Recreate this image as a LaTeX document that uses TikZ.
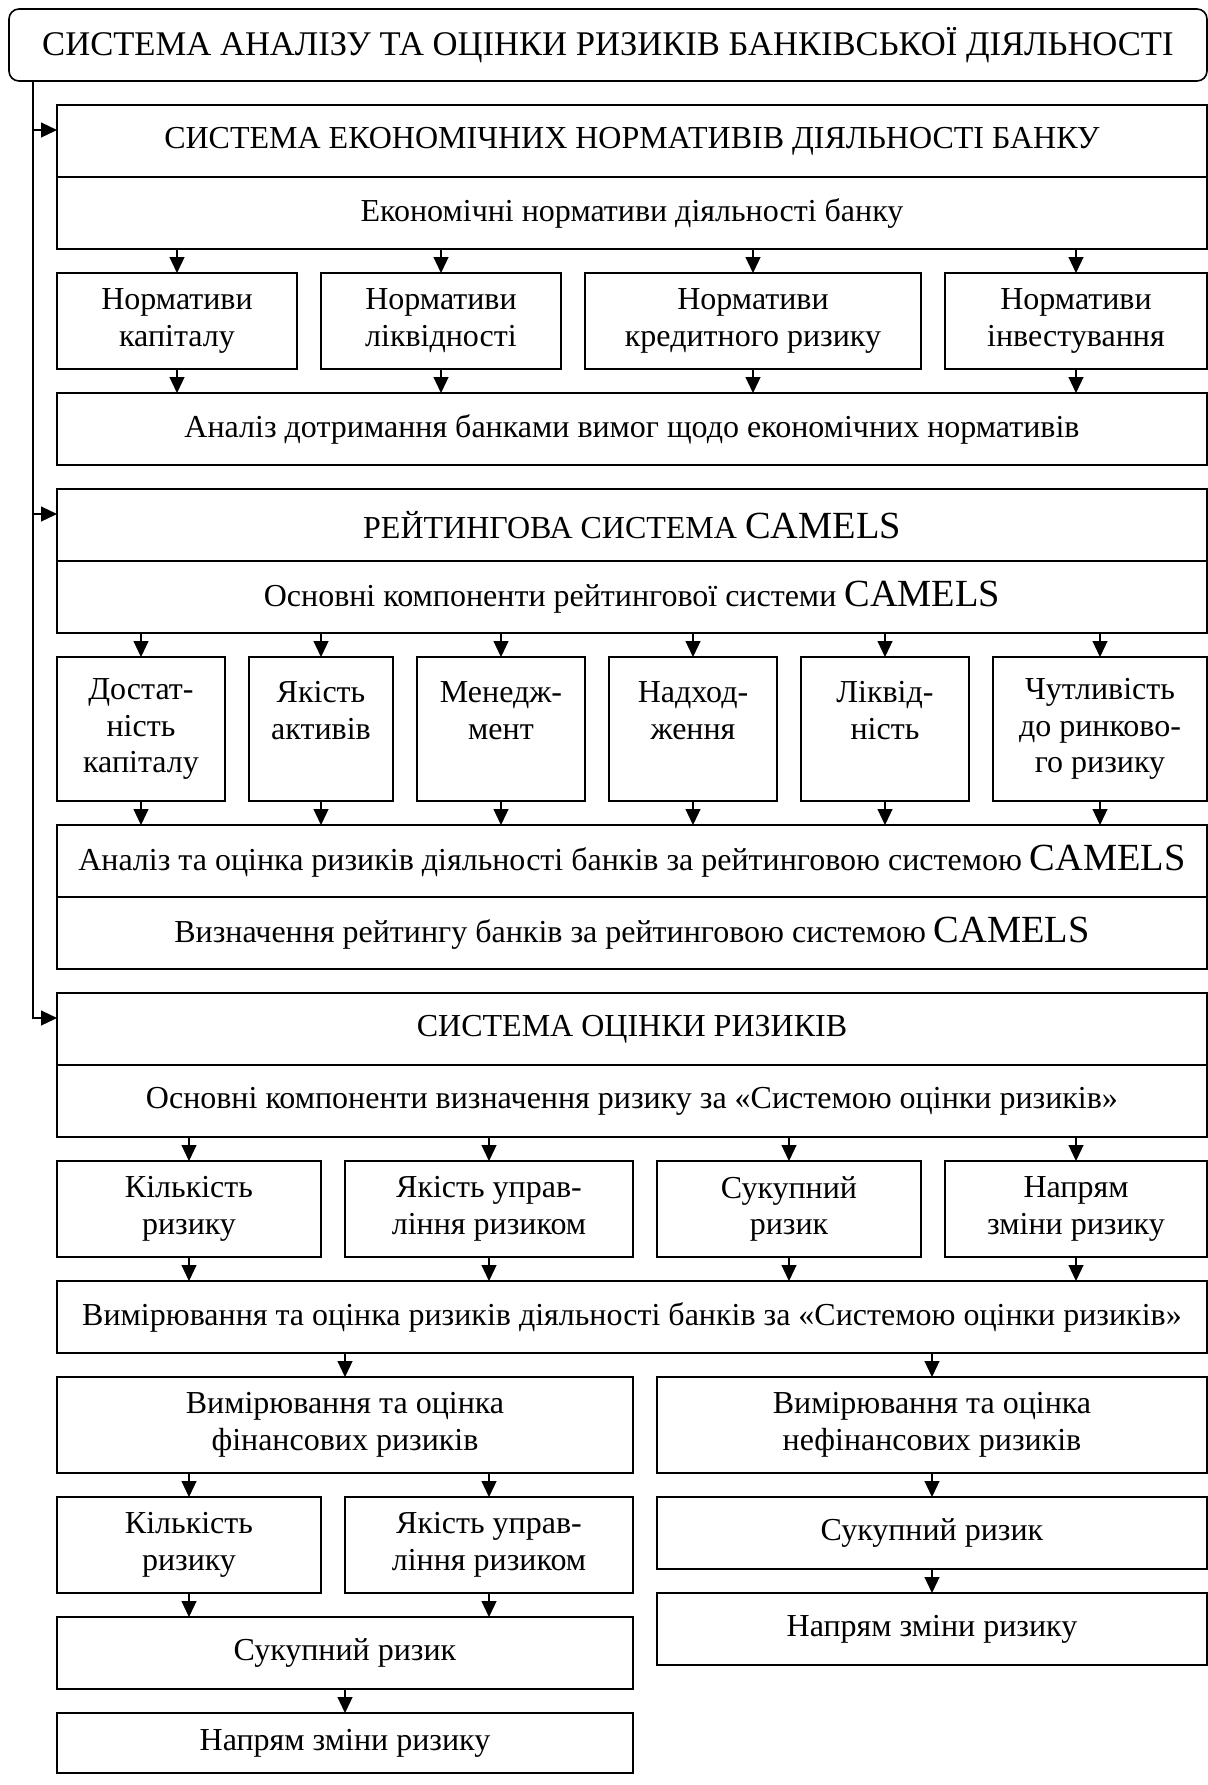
\documentclass[tikz,border=0pt]{standalone}
\usepackage{fontspec}
\setmainfont{Liberation Serif}
\usetikzlibrary{arrows.meta}
\newcommand{\camels}{{\fontsize{19.2}{20}\selectfont CAMELS}}
\tikzset{
	box/.style={draw, line width=0.6pt, anchor=north west, inner sep=0pt, outer sep=0pt,
		align=center, font=\fontsize{16}{18.4}\selectfont},
	arr/.style={line width=0.6pt, -{Triangle[length=8pt, width=7.5pt]}}
}

\begin{document}
\begin{tikzpicture}[x=0.5pt, y=-0.5pt]
	\useasboundingbox (0,0) rectangle (1208,1785);

	% Head box
	\node[box, rounded corners=5pt, line width=0.8pt, minimum width=599pt, minimum height=36pt,
		font=\fontsize{17.3}{20}\selectfont] (top) at (9,9)
		{СИСТЕМА АНАЛІЗУ ТА ОЦІНКИ РИЗИКІВ БАНКІВСЬКОЇ ДІЯЛЬНОСТІ};

	% Economic standards
	\node[box, minimum width=575pt, minimum height=36pt] (ecoT) at (57,105) {СИСТЕМА ЕКОНОМІЧНИХ НОРМАТИВІВ ДІЯЛЬНОСТІ БАНКУ};
	\node[box, minimum width=575pt, minimum height=36pt] (ecoS) at (57,177) {Економічні нормативи діяльності банку};
	\node[box, minimum width=120pt, minimum height=48pt] (n1) at (57,273) {Нормативи\\капіталу};
	\node[box, minimum width=120pt, minimum height=48pt] (n2) at (321,273) {Нормативи\\ліквідності};
	\node[box, minimum width=168pt, minimum height=48pt] (n3) at (585,273) {Нормативи\\кредитного ризику};
	\node[box, minimum width=131pt, minimum height=48pt] (n4) at (945,273) {Нормативи\\інвестування};
	\node[box, minimum width=575pt, minimum height=36pt] (ecoA) at (57,393) {Аналіз дотримання банками вимог щодо економічних нормативів};
	\foreach \n in {n1,n2,n3,n4}{
		\draw[arr] (ecoS.south -| \n.north) -- (\n.north);
		\draw[arr] (\n.south) -- (ecoA.north -| \n.south);
	}

	% CAMELS
	\node[box, minimum width=575pt, minimum height=36pt] (camT) at (57,489) {РЕЙТИНГОВА СИСТЕМА \camels};
	\node[box, minimum width=575pt, minimum height=36pt] (camS) at (57,561) {Основні компоненти рейтингової системи \camels};
	\node[box, minimum width=84pt, minimum height=72pt] (c1) at (57,657) {Достат-\\ність\\капіталу};
	\node[box, minimum width=72pt, minimum height=72pt] (c2) at (249,657) {Якість\\активів\\~};
	\node[box, minimum width=84pt, minimum height=72pt] (c3) at (417,657) {Менедж-\\мент\\~};
	\node[box, minimum width=84pt, minimum height=72pt] (c4) at (609,657) {Надход-\\ження\\~};
	\node[box, minimum width=84pt, minimum height=72pt] (c5) at (801,657) {Ліквід-\\ність\\~};
	\node[box, minimum width=107pt, minimum height=72pt] (c6) at (993,657) {Чутливість\\до ринково-\\го ризику};
	\node[box, minimum width=575pt, minimum height=36pt] (camA) at (57,825) {Аналіз та оцінка ризиків діяльності банків за рейтинговою системою \camels};
	\node[box, minimum width=575pt, minimum height=36pt] (camR) at (57,897) {Визначення рейтингу банків за рейтинговою системою \camels};
	\foreach \n in {c1,c2,c3,c4,c5,c6}{
		\draw[arr] (camS.south -| \n.north) -- (\n.north);
		\draw[arr] (\n.south) -- (camA.north -| \n.south);
	}

	% Risk assessment system
	\node[box, minimum width=575pt, minimum height=36pt] (rskT) at (57,993) {СИСТЕМА ОЦІНКИ РИЗИКІВ};
	\node[box, minimum width=575pt, minimum height=36pt] (rskS) at (57,1065) {Основні компоненти визначення ризику за «Системою оцінки ризиків»};
	\node[box, minimum width=132pt, minimum height=48pt] (r1) at (57,1161) {Кількість\\ризику};
	\node[box, minimum width=144pt, minimum height=48pt] (r2) at (345,1161) {Якість управ-\\ління ризиком};
	\node[box, minimum width=132pt, minimum height=48pt] (r3) at (657,1161) {Сукупний\\ризик};
	\node[box, minimum width=131pt, minimum height=48pt] (r4) at (945,1161) {Напрям\\зміни ризику};
	\node[box, minimum width=575pt, minimum height=36pt] (rskM) at (57,1281) {Вимірювання та оцінка ризиків діяльності банків за «Системою оцінки ризиків»};
	\foreach \n in {r1,r2,r3,r4}{
		\draw[arr] (rskS.south -| \n.north) -- (\n.north);
		\draw[arr] (\n.south) -- (rskM.north -| \n.south);
	}

	% Financial / non-financial
	\node[box, minimum width=288pt, minimum height=48pt] (fin) at (57,1377) {Вимірювання та оцінка\\фінансових ризиків};
	\node[box, minimum width=275pt, minimum height=48pt] (nfin) at (657,1377) {Вимірювання та оцінка\\нефінансових ризиків};
	\node[box, minimum width=132pt, minimum height=48pt] (f1) at (57,1497) {Кількість\\ризику};
	\node[box, minimum width=144pt, minimum height=48pt] (f2) at (345,1497) {Якість управ-\\ління ризиком};
	\node[box, minimum width=288pt, minimum height=36pt] (fS) at (57,1617) {Сукупний ризик};
	\node[box, minimum width=288pt, minimum height=30pt] (fN) at (57,1713) {Напрям зміни ризику};
	\node[box, minimum width=275pt, minimum height=36pt] (nS) at (657,1497) {Сукупний ризик};
	\node[box, minimum width=275pt, minimum height=36pt] (nN) at (657,1593) {Напрям зміни ризику};
	\draw[arr] (rskM.south -| fin.north) -- (fin.north);
	\draw[arr] (rskM.south -| nfin.north) -- (nfin.north);
	\foreach \n in {f1,f2}{
		\draw[arr] (fin.south -| \n.north) -- (\n.north);
		\draw[arr] (\n.south) -- (fS.north -| \n.south);
	}
	\draw[arr] (fS.south) -- (fN.north);
	\draw[arr] (nfin.south) -- (nS.north);
	\draw[arr] (nS.south) -- (nN.north);

	% Spine from the head box
	\coordinate (spine) at (33,81);
	\coordinate (ecoIn) at ([yshift=5.5pt]ecoT.west);
	\coordinate (camIn) at ([yshift=5.5pt]camT.west);
	\coordinate (rskIn) at ([yshift=5.5pt]rskT.west);
	\draw[arr] (spine) |- (rskIn);
	\draw[arr] (ecoIn -| spine) -- (ecoIn);
	\draw[arr] (camIn -| spine) -- (camIn);
\end{tikzpicture}
\end{document}
